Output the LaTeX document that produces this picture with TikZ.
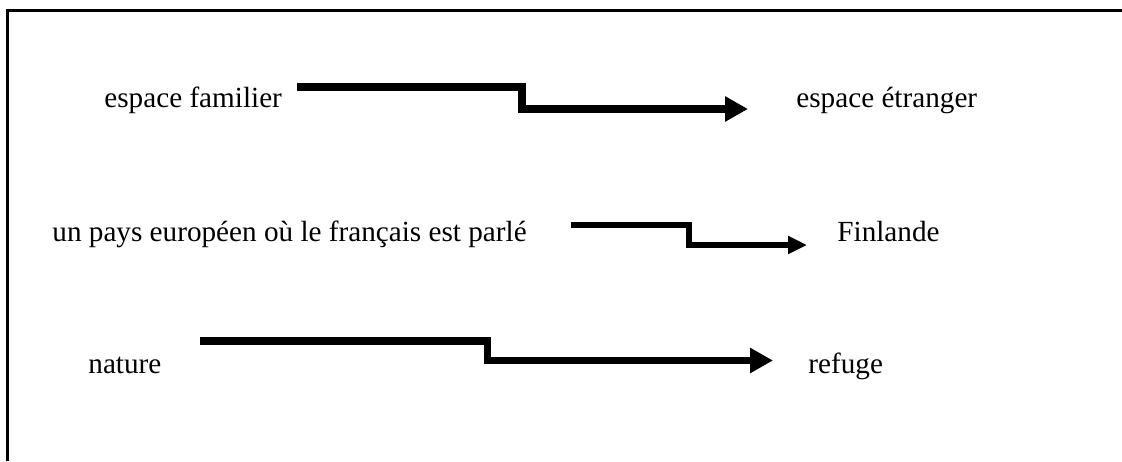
\documentclass[tikz,border=0pt]{standalone}
\usepackage{fontspec}
\setmainfont{Liberation Serif}
\usetikzlibrary{arrows.meta}

\begin{document}
\begin{tikzpicture}[x=0.5pt, y=-0.5pt,
		mytext/.style={anchor=base west, inner sep=0pt, font=\fontsize{14.6}{17}\selectfont},
		myarrow/.style={line width=3.8pt, line join=miter, -{Triangle[length=11.5pt, width=12pt]}},
		thinarrow/.style={line width=3pt, line join=miter, -{Triangle[length=9.5pt, width=8.5pt]}}]
		\useasboundingbox (0,0) rectangle (1122,461);
		\draw[line width=1.5pt] (7,461) -- (7,10.5) -- (1122,10.5);

		\node[mytext] (1) at (104,107) {espace familier};
		\node[mytext] (2) at (796,107) {espace étranger};
		\node[mytext] (3) at (52,241) {un pays européen où le français est parlé};
		\node[mytext] (4) at (837,241) {Finlande};
		\node[mytext] (5) at (88,373) {nature};
		\node[mytext] (6) at (808,373) {refuge};

		\coordinate (1s) at (297,87);
		\coordinate (1k) at (522,109);
		\coordinate (1e) at (748,109);
		\coordinate (2s) at (571,225);
		\coordinate (2k) at (689,245);
		\coordinate (2e) at (807,245);
		\coordinate (3s) at (200,341);
		\coordinate (3k) at (487.5,360.5);
		\coordinate (3e) at (773,360.5);

		\draw[myarrow] (1s) -| (1k) -- (1e);
		\draw[thinarrow] (2s) -| (2k) -- (2e);
		\draw[myarrow] (3s) -| (3k) -- (3e);
	\end{tikzpicture}
\end{document}
